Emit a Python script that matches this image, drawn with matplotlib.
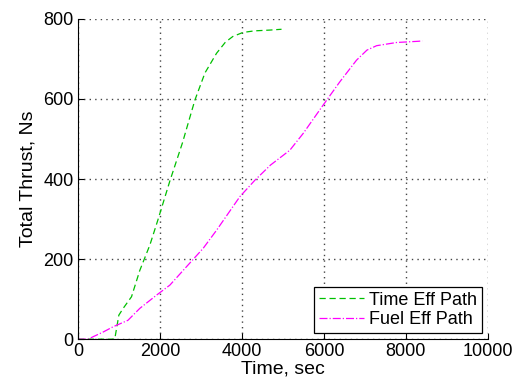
import matplotlib
matplotlib.use("Agg")
import matplotlib.pyplot as plt

time_eff_t = [0, 900, 1000, 1106, 1309, 1512, 1756, 1950, 2244, 2550, 2854, 3100, 3382, 3600, 3780, 4024, 4300, 4683, 4967]
time_eff_y = [0, 0, 60, 77, 106, 172, 235, 297, 395, 490, 597, 665, 714, 742, 756, 766, 770, 772, 774]

fuel_eff_t = [0, 250, 370, 620, 860, 1220, 1512, 1919, 2244, 2650, 3057, 3382, 3951, 4317, 4700, 5170, 5496, 5984, 6390, 6797, 7050, 7285, 7773, 8301, 8400]
fuel_eff_y = [0, 0, 6, 18, 31, 47, 77, 110, 135, 181, 227, 272, 356, 397, 435, 472, 514, 585, 643, 697, 722, 733, 741, 744, 745]

plt.rcParams['font.family'] = ['Liberation Sans', 'DejaVu Sans']

fig = plt.figure(figsize=(5.12, 3.85), dpi=100)
ax = fig.add_axes([0.152, 0.119, 0.801, 0.832])

ax.plot(time_eff_t, time_eff_y, '--', color='#00c000', lw=0.9, label='Time Eff Path', dashes=(5, 3))
ax.plot(fuel_eff_t, fuel_eff_y, '-.', color='#ff00ff', lw=0.9, label='Fuel Eff Path')

ax.set_xlim(0, 10000)
ax.set_ylim(0, 800)
ax.set_xticks(range(0, 10001, 2000))
ax.set_yticks(range(0, 801, 200))
ax.grid(True, linestyle=(0, (1, 3)), color='#444444', linewidth=1.0)
ax.spines['top'].set_visible(False)
ax.spines['right'].set_visible(False)
ax.tick_params(direction='in', length=4, labelsize=13, colors='black', pad=3)
ax.set_xlabel('Time, sec', fontsize=14, labelpad=0)
ax.set_ylabel('Total Thrust, Ns', fontsize=14, labelpad=5)

leg = ax.legend(loc='lower right', fontsize=13, fancybox=False, framealpha=1,
                edgecolor='black', borderpad=0.25, handlelength=2.5,
                handletextpad=0.3, labelspacing=0.15, borderaxespad=0.35)
leg.get_frame().set_linewidth(0.9)

fig.savefig('out.png', dpi=100)
